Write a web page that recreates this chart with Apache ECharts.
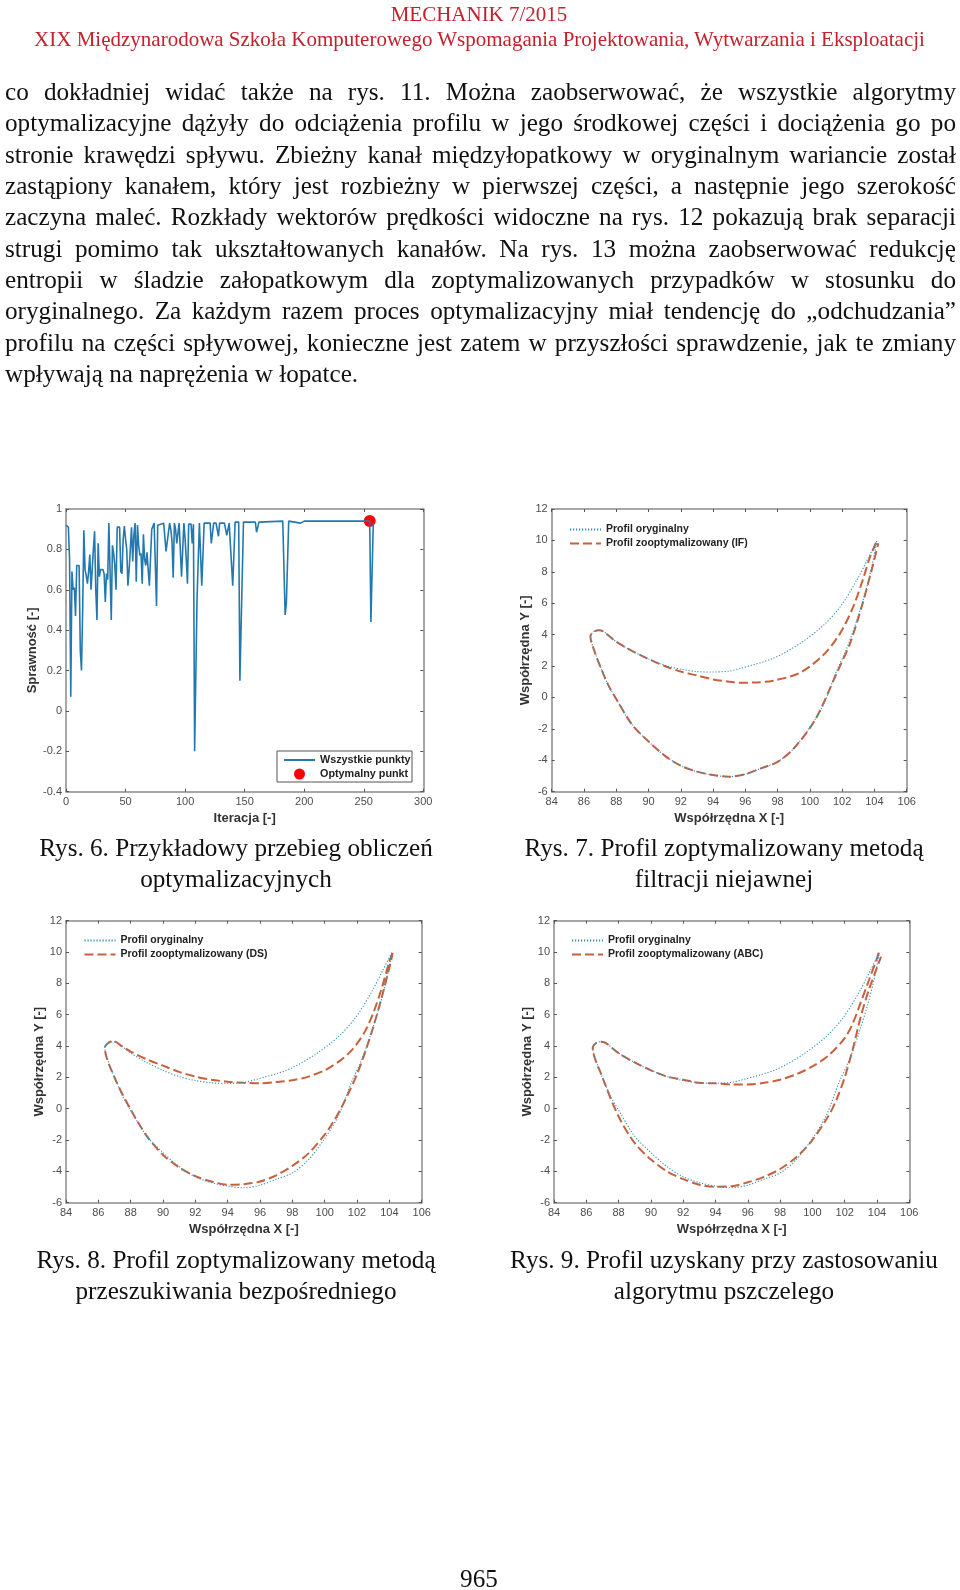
<!DOCTYPE html>
<html><head><meta charset="utf-8">
<script src="https://cdn.jsdelivr.net/npm/echarts@6/dist/echarts.min.js"></script>
<style>
html,body{margin:0;padding:0;background:#fff;}
#page{position:relative;width:960px;height:1590px;overflow:hidden;filter:blur(0.4px);}
#chart{position:absolute;left:0;top:0;width:960px;height:1590px;}
.t{position:absolute;font-family:"Liberation Serif",serif;color:#111;white-space:nowrap;}
.j{left:5px;width:951px;font-size:25.2px;line-height:30px;height:30px;text-align:justify;text-align-last:justify;white-space:normal;}
.c{font-size:25.2px;line-height:30px;text-align:center;transform:translateX(-50%);}
.h{color:#c5202c;line-height:24px;transform:translateX(-50%);}
</style></head><body>
<div id="page"><div id="chart"></div></div>
<script>
const headerLines=["MECHANIK 7/2015","XIX Międzynarodowa Szkoła Komputerowego Wspomagania Projektowania, Wytwarzania i Eksploatacji"];
const bodyLines=[
"co dokładniej widać także na rys. 11. Można zaobserwować, że wszystkie algorytmy",
"optymalizacyjne dążyły do odciążenia profilu w jego środkowej części i dociążenia go po",
"stronie krawędzi spływu. Zbieżny kanał międzyłopatkowy w oryginalnym wariancie został",
"zastąpiony kanałem, który jest rozbieżny w pierwszej części, a następnie jego szerokość",
"zaczyna maleć. Rozkłady wektorów prędkości widoczne na rys. 12 pokazują brak separacji",
"strugi pomimo tak ukształtowanych kanałów. Na rys. 13 można zaobserwować redukcję",
"entropii w śladzie załopatkowym dla zoptymalizowanych przypadków w stosunku do",
"oryginalnego. Za każdym razem proces optymalizacyjny miał tendencję do „odchudzania”",
"profilu na części spływowej, konieczne jest zatem w przyszłości sprawdzenie, jak te zmiany",
"wpływają na naprężenia w łopatce."];
const captions=[
["Rys. 6. Przykładowy przebieg obliczeń","optymalizacyjnych"],
["Rys. 7. Profil zoptymalizowany metodą","filtracji niejawnej"],
["Rys. 8. Profil zoptymalizowany metodą","przeszukiwania bezpośredniego"],
["Rys. 9. Profil uzyskany przy zastosowaniu","algorytmu pszczelego"]];
const pageNumber="965";

// Rys. 6 – iteration history
const iterX=[0,1,2,3,4,5,6,7,8,9,
 10,11,12,13,14,15,16,17,18,19,
 20,21,22,23,24,25,26,27,28,29,
 31,32,33,34,35,36,37,38,39,40,
 41,42,43,45,46,47,48,49,50,51,
 52,53,54,55,56,57,58,59,60,61,
 62,63,64,65,66,67,68,69,70,72,
 74,76,77,82,84,87,88,89,90,91,
 92,93,95,96,97,98,99,100,101,102,
 103,105,106,107,108,110,112,114,116,121,
 122,124,126,128,129,133,135,137,138,140,
 142,145,146,149,159,160,162,182,184,185,
 187,197,198,200,255,256,258];
const iterY=[.92,.925,.91,.75,.07,.69,.6,.61,.47,.72,
 .725,.72,.3,.2,.5,.895,.7,.67,.63,.69,
 .775,.6,.7,.8,.89,.6,.45,.83,.665,.7,
 .7,.68,.54,.68,.65,.93,.93,.45,.82,.78,
 .72,.6,.91,.91,.69,.68,.85,.915,.85,.8,
 .62,.7,.8,.91,.74,.87,.93,.64,.92,.82,
 .77,.78,.63,.875,.75,.72,.785,.7,.62,.9,
 .93,.52,.92,.93,.79,.93,.9,.84,.66,.93,
 .9,.83,.93,.93,.665,.8,.93,.85,.75,.63,
 .925,.925,.83,.925,-.2,.55,.93,.62,.93,.93,
 .83,.93,.93,.865,.93,.93,.87,.93,.93,.62,
 .935,.935,.15,.935,.935,.885,.935,.94,.475,.53,
 .94,.93,.935,.94,.94,.44,.93];
const bestX=[255];
const bestY=[.94];

// Profiles: from the trailing edge along the upper side to the leading edge, then back along the lower side
const origX=[104.15,103.6,102.9,101.9,100.85,99.4,97.75,95.7,95,94,93,92,91,90,89,88,87.2,86.9,86.55,86.4,86.7,87,87.5,88,89,90,91,92,93,94,95,96,97,98,99,100,100.85,101.66,102.28,102.9,103.41,103.83,104.15];
const origY=[9.95,8.85,7.45,5.8,4.6,3.45,2.5,1.85,1.68,1.62,1.65,1.8,2.05,2.45,2.95,3.55,4.2,4.28,4.15,3.9,2.8,2,.8,-.1,-1.76,-2.8,-3.7,-4.35,-4.72,-4.94,-5.05,-4.88,-4.5,-4.1,-3.25,-1.9,-.45,1.7,3.1,4.9,6.6,8.3,9.95];
const ifX=[104.1,103.73,103.31,102.69,101.87,100.83,99.39,97.73,96.5,95.67,95,94,93,92,91,90,89,88,87.2,86.9,86.55,86.4,86.7,87,87.5,88,89,90,91,92,93,94,95,96,97,98,99,100.32,101.66,102.49,103.21,103.83,104.24];
const ifY=[9.85,8.96,7.59,5.78,4.08,2.7,1.58,1.07,.95,.94,1,1.15,1.4,1.65,2,2.45,2.95,3.55,4.2,4.28,4.15,3.9,2.8,2,.8,-.1,-1.76,-2.8,-3.7,-4.35,-4.72,-4.94,-5.05,-4.88,-4.5,-4.1,-3.25,-1.43,1.54,3.45,5.78,8.12,9.82];
const dsX=[104.2,104,103.5,103,102.5,102,101.5,101,100.5,100,99,98,97,96,95,94,93,92,91,90,89,88,87.5,86.9,86.55,86.4,87,88,89,90,91,92,93,94,95,96,97,98,99,100,100.5,101,101.5,102,102.5,103,103.5,104,104.2];
const dsY=[9.95,9.4,7.6,6.1,4.95,4.15,3.55,3.1,2.75,2.45,2.05,1.82,1.7,1.62,1.65,1.72,1.85,2.05,2.35,2.75,3.15,3.65,3.95,4.33,4.15,3.9,2,-.05,-1.75,-2.95,-3.75,-4.3,-4.65,-4.85,-4.82,-4.65,-4.25,-3.65,-2.85,-1.65,-.9,0,1.05,2.2,3.6,5.2,7,9,9.9];
const abcX=[104.1,104,103.5,103,102.5,102,101,100,99,98,97,96,95,94,93,92,91,90,89,88,87.2,86.9,86.55,86.4,87,88,89,90,91,92,93,94,95,96,97,98,99,100,101,101.5,102,102.5,103,103.5,104,104.25];
const abcY=[9.95,9.6,8.2,6.8,5.45,4.5,3.4,2.7,2.2,1.85,1.65,1.55,1.55,1.62,1.65,1.85,2.05,2.45,2.95,3.55,4.2,4.28,4.15,3.9,2,-.5,-2.2,-3.25,-4,-4.5,-4.85,-4.98,-4.95,-4.7,-4.35,-3.85,-3.1,-2,-.45,.6,2,3.8,5.9,7.6,9,9.7];

const xTitleIter="Iteracja [-]", yTitleIter="Sprawność [-]";
const xTitleProf="Współrzędna X [-]", yTitleProf="Współrzędna Y [-]";
const allPointsName="Wszystkie punkty", bestName="Optymalny punkt", origName="Profil oryginalny";
const optNames=["Profil zooptymalizowany (IF)","Profil zooptymalizowany (DS)","Profil zooptymalizowany (ABC)"];

// ---- page text ----
const page=document.getElementById('page');
function add(cls,txt,style){const d=document.createElement('div');d.className='t '+cls;d.textContent=txt;Object.assign(d.style,style);page.appendChild(d);return d;}
add('h',headerLines[0],{left:'479px',top:'2px',fontSize:'21px'});
add('h',headerLines[1],{left:'479.5px',top:'27px',fontSize:'21px'});
bodyLines.forEach((l,i)=>{
  const s={top:(77+31.35*i)+'px'};
  if(i===bodyLines.length-1){s.textAlignLast='left';}
  add('j',l,s);
});
[[236,833],[724,833],[236,1245],[724,1245]].forEach((p,i)=>{
  add('c',captions[i][0],{left:p[0]+'px',top:p[1]+'px'});
  add('c',captions[i][1],{left:p[0]+'px',top:(p[1]+31)+'px'});
});
add('c',pageNumber,{left:'479px',top:'1564px'});

// ---- chart ----
const GREY='#8a8a8a', LBL='#4d4d4d', FONT='"Liberation Sans",Arial,sans-serif';
const grids=[
 {left:66,top:509,width:357.3,height:282.7},
 {left:551.7,top:509,width:355,height:282.7},
 {left:66,top:920.7,width:355.7,height:282},
 {left:554,top:920.7,width:355.3,height:282}];
const xAxis=[],yAxis=[];
function axes(gi,xr,yr,xn,yn,gapY){
  const tick={inside:true,length:3,lineStyle:{color:'#555',width:1}};
  const line={show:true,onZero:false,lineStyle:{color:GREY,width:1.5}};
  const lab={color:LBL,fontFamily:FONT,fontSize:11};
  const nm={fontFamily:FONT,fontSize:13,fontWeight:'bold',color:'#333'};
  xAxis.push({type:'value',gridIndex:gi,min:xr[0],max:xr[1],interval:xr[2],position:'bottom',axisLine:line,axisTick:tick,splitLine:{show:false},
    axisLabel:Object.assign({margin:5},lab),name:xn,nameLocation:'middle',nameGap:20,nameTextStyle:nm});
  xAxis.push({type:'value',gridIndex:gi,min:xr[0],max:xr[1],interval:xr[2],position:'top',axisLine:line,axisTick:tick,axisLabel:{show:false},splitLine:{show:false}});
  yAxis.push({type:'value',gridIndex:gi,min:yr[0],max:yr[1],interval:yr[2],position:'left',axisLine:line,axisTick:tick,splitLine:{show:false},
    axisLabel:Object.assign({margin:4},lab),name:yn,nameLocation:'middle',nameGap:gapY,nameTextStyle:nm});
  yAxis.push({type:'value',gridIndex:gi,min:yr[0],max:yr[1],interval:yr[2],position:'right',axisLine:line,axisTick:tick,axisLabel:{show:false},splitLine:{show:false}});
}
axes(0,[0,300,50],[-.4,1,.2],xTitleIter,yTitleIter,24);
[1,2,3].forEach(i=>axes(i,[84,106,2],[-6,12,2],xTitleProf,yTitleProf,18));
const zip=(a,b)=>a.map((v,i)=>[v,b[i]]);
const series=[
 {type:'line',name:allPointsName,xAxisIndex:0,yAxisIndex:0,data:zip(iterX,iterY),showSymbol:false,symbol:'none',lineStyle:{color:'#2478b0',width:1.6},itemStyle:{color:'#2478b0'}},
 {type:'scatter',name:bestName,xAxisIndex:0,yAxisIndex:0,data:zip(bestX,bestY),symbol:'circle',symbolSize:12,itemStyle:{color:'#ff0000',opacity:1}}
];
[[ifX,ifY],[dsX,dsY],[abcX,abcY]].forEach((c,i)=>{
  const ax=(i+1)*2;
  series.push({type:'line',name:optNames[i],xAxisIndex:ax,yAxisIndex:ax,data:zip(c[0],c[1]),symbol:'none',smooth:.3,lineStyle:{color:'#c9603c',width:2,type:[9,4]},itemStyle:{color:'#c9603c'}});
  series.push({type:'line',name:origName,xAxisIndex:ax,yAxisIndex:ax,data:zip(origX,origY),symbol:'none',smooth:.3,lineStyle:{color:'#2f8db5',width:1.1,type:[1.2,1.8]},itemStyle:{color:'#2f8db5'}});
});
const legTxt={fontFamily:FONT,fontSize:10.5,fontWeight:'bold',color:'#222'};
const hide={color:'transparent',opacity:0,borderWidth:0};
const leg=(data,left,top,extra)=>Object.assign({data:data.map(n=>({name:n,itemStyle:hide})),left,top,orient:'vertical',itemWidth:31,itemHeight:8,itemGap:3,padding:0,textStyle:legTxt,selectedMode:false,align:'left'},extra||{});
const legend=[
 Object.assign(leg([allPointsName],283,754.5),{data:[{name:allPointsName,itemStyle:hide},{name:bestName,icon:'circle'}],itemHeight:11,itemGap:3,textStyle:Object.assign({},legTxt,{fontSize:10.8})}),
 leg([origName,optNames[0]],569,524),
 leg([origName,optNames[1]],83.5,935),
 leg([origName,optNames[2]],571,935)
];
const chart=echarts.init(document.getElementById('chart'),null,{width:960,height:1590});
chart.setOption({animation:false,grid:grids.map(g=>Object.assign({show:false},g)),xAxis,yAxis,series,legend,
 graphic:[{type:'rect',shape:{x:277,y:751,width:135,height:31},style:{fill:'none',stroke:'#555',lineWidth:1},z:5}]});
</script></body></html>
